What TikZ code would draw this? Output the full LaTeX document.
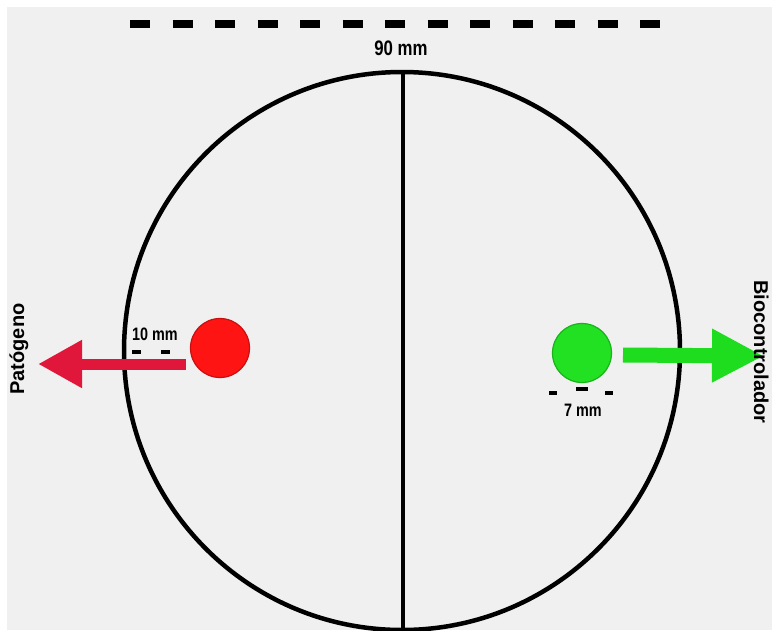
\documentclass[tikz,border=0pt]{standalone}
\usepackage{fontspec}
\setmainfont{Liberation Sans}
\newfontfamily\condfont[FakeStretch=0.8]{Liberation Sans}
\usetikzlibrary{arrows.meta}
\definecolor{paper}{HTML}{F0F0F0}
\definecolor{redfill}{HTML}{FF1414}
\definecolor{rededge}{HTML}{C81010}
\definecolor{redarrow}{HTML}{E0163A}
\definecolor{greenfill}{HTML}{22E022}
\definecolor{greenedge}{HTML}{19B419}
\definecolor{greenarrow}{HTML}{1EDC1E}
\tikzset{
  lbl/.style={font=\condfont\fontsize{21}{22}\selectfont\bfseries, inner sep=0pt},
  smalllbl/.style={font=\condfont\fontsize{18}{19}\selectfont\bfseries, inner sep=0pt},
  sidelbl/.style={font=\fontsize{20}{22}\selectfont\bfseries, inner sep=0pt},
  dot/.style={circle, minimum size=59pt, inner sep=0pt, line width=1.2pt},
  scaledash/.style={line width=8pt, dash pattern=on 20pt off 22.5pt},
}
\begin{document}
\begin{tikzpicture}[x=1pt,y=-1pt]
\useasboundingbox (0,0) rectangle (772,630);
\fill[white] (0,0) rectangle (772,630);
\fill[paper] (7,7) rectangle (772,630);
% top scale bar
\draw[scaledash] (130,24) -- (660,24);
\node[lbl] (d90) at (401,48) {90 mm};
% plate
\draw[line width=4.5pt] (402,351) ellipse [x radius=278, y radius=279];
\draw[line width=3.5pt] (403,72) -- (403,632);
% dots
\node[dot, fill=redfill, draw=rededge] (pat) at (220,348) {};
\node[dot, fill=greenfill, draw=greenedge] (bio) at (582,353) {};
% arrows
\coordinate (patTip) at (38,364);
\coordinate (bioTip) at (764,356);
\draw[line width=11pt, draw=redarrow, fill=redarrow, -{Triangle[length=44pt,width=45pt]}] (186,364) -- (patTip);
\draw[line width=15pt, draw=greenarrow, fill=greenarrow, -{Triangle[length=52pt,width=50pt]}] (623,355) -- (bioTip);
% size labels
\node[smalllbl] (d10) at (155,334) {10 mm};
\draw[line width=4pt, dash pattern=on 9pt off 20pt] (132,352) -- (172,352);
\node[smalllbl] (d7) at (583,410) {7 mm};
\draw[line width=4pt] (549,393) -- (557,393);
\draw[line width=4pt] (576,389) -- (588,389);
\draw[line width=4pt] (605,393) -- (613,393);
% side labels
\node[sidelbl, rotate=90] (patlbl) at (19,349) {Patógeno};
\node[sidelbl, rotate=-90, anchor=base] (biolbl) at (754,352) {Biocontrolador};
\end{tikzpicture}
\end{document}
